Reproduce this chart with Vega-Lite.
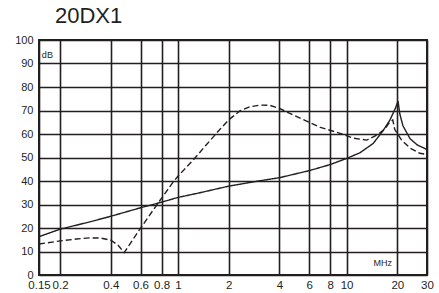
{
  "$schema": "https://vega.github.io/schema/vega-lite/v6.json",
  "width": 388,
  "height": 235,
  "autosize": "none",
  "padding": {"left": 39, "top": 40, "right": 12, "bottom": 18},
  "background": "white",
  "title": {"text": "20DX1", "anchor": "start", "frame": "group", "dx": 16, "offset": 6, "fontSize": 22, "font": "Liberation Sans", "fontWeight": "normal", "color": "#231f20"},
  "config": {
    "view": {"stroke": "#231f20", "strokeWidth": 2},
    "axis": {"grid": true, "gridColor": "#231f20", "gridWidth": 1.6, "gridOpacity": 1, "domain": false, "ticks": false, "labelFont": "Liberation Sans", "labelColor": "#231f20", "labelOverlap": false, "labelFlush": false, "labelBound": false, "title": null}
  },
  "datasets": {
    "curves": [
      {"series": "solid", "f": 0.15, "db": 16.3},
      {"series": "solid", "f": 0.2, "db": 19.5},
      {"series": "solid", "f": 0.3, "db": 22.6},
      {"series": "solid", "f": 0.4, "db": 25.0},
      {"series": "solid", "f": 0.6, "db": 28.6},
      {"series": "solid", "f": 0.8, "db": 31.0},
      {"series": "solid", "f": 1.0, "db": 33.0},
      {"series": "solid", "f": 1.35, "db": 35.0},
      {"series": "solid", "f": 2.0, "db": 37.8},
      {"series": "solid", "f": 3.0, "db": 40.0},
      {"series": "solid", "f": 4.0, "db": 41.4},
      {"series": "solid", "f": 6.0, "db": 44.4},
      {"series": "solid", "f": 8.0, "db": 47.0},
      {"series": "solid", "f": 10.0, "db": 49.6},
      {"series": "solid", "f": 12.0, "db": 52.0},
      {"series": "solid", "f": 14.4, "db": 56.0},
      {"series": "solid", "f": 16.5, "db": 61.5},
      {"series": "solid", "f": 18.1, "db": 66.0},
      {"series": "solid", "f": 19.5, "db": 71.0},
      {"series": "solid", "f": 20.2, "db": 74.0},
      {"series": "solid", "f": 20.7, "db": 68.5},
      {"series": "solid", "f": 21.6, "db": 63.5},
      {"series": "solid", "f": 23.8, "db": 58.0},
      {"series": "solid", "f": 26.3, "db": 55.3},
      {"series": "solid", "f": 30.0, "db": 53.4},
      {"series": "dashed", "f": 0.15, "db": 13.2},
      {"series": "dashed", "f": 0.2, "db": 14.5},
      {"series": "dashed", "f": 0.25, "db": 15.3},
      {"series": "dashed", "f": 0.3, "db": 15.8},
      {"series": "dashed", "f": 0.35, "db": 15.7},
      {"series": "dashed", "f": 0.4, "db": 14.8},
      {"series": "dashed", "f": 0.44, "db": 12.8},
      {"series": "dashed", "f": 0.48, "db": 9.5},
      {"series": "dashed", "f": 0.6, "db": 19.9},
      {"series": "dashed", "f": 0.78, "db": 31.6},
      {"series": "dashed", "f": 0.94, "db": 39.7},
      {"series": "dashed", "f": 1.0, "db": 42.0},
      {"series": "dashed", "f": 1.23, "db": 48.9},
      {"series": "dashed", "f": 1.47, "db": 55.3},
      {"series": "dashed", "f": 1.76, "db": 61.7},
      {"series": "dashed", "f": 2.0, "db": 66.0},
      {"series": "dashed", "f": 2.34, "db": 69.9},
      {"series": "dashed", "f": 2.68, "db": 71.6},
      {"series": "dashed", "f": 3.09, "db": 72.3},
      {"series": "dashed", "f": 3.5, "db": 72.2},
      {"series": "dashed", "f": 4.0, "db": 70.9},
      {"series": "dashed", "f": 4.82, "db": 68.1},
      {"series": "dashed", "f": 6.0, "db": 65.0},
      {"series": "dashed", "f": 7.0, "db": 62.8},
      {"series": "dashed", "f": 9.15, "db": 60.3},
      {"series": "dashed", "f": 11.0, "db": 58.2},
      {"series": "dashed", "f": 13.2, "db": 57.4},
      {"series": "dashed", "f": 15.2, "db": 59.6},
      {"series": "dashed", "f": 17.0, "db": 62.4},
      {"series": "dashed", "f": 18.1, "db": 65.2},
      {"series": "dashed", "f": 18.8, "db": 66.0},
      {"series": "dashed", "f": 19.3, "db": 62.0},
      {"series": "dashed", "f": 21.2, "db": 57.4},
      {"series": "dashed", "f": 23.8, "db": 54.0},
      {"series": "dashed", "f": 27.2, "db": 51.8},
      {"series": "dashed", "f": 30.0, "db": 51.3}
    ],
    "labels": [
      {"label": "dB", "f": 0.156, "db": 93.6, "align": "left"},
      {"label": "MHz", "f": 18.6, "db": 5.1, "align": "right"}
    ]
  },
  "encoding": {
    "x": {"field": "f", "type": "quantitative",
      "scale": {"type": "log", "domain": [0.15, 30], "nice": false},
      "axis": {"values": [0.15, 0.2, 0.4, 0.6, 0.8, 1, 2, 4, 6, 8, 10, 20, 30], "labelExpr": "'' + datum.value", "labelFontSize": 11.5, "labelPadding": 4}},
    "y": {"field": "db", "type": "quantitative",
      "scale": {"domain": [0, 100], "nice": false},
      "axis": {"values": [0, 10, 20, 30, 40, 50, 60, 70, 80, 90, 100], "labelFontSize": 11, "labelPadding": 6}}
  },
  "layer": [
    {
      "data": {"name": "curves"},
      "mark": {"type": "line", "color": "#231f20", "strokeWidth": 1.4, "clip": true},
      "encoding": {
        "strokeDash": {"field": "series", "type": "nominal",
          "scale": {"domain": ["solid", "dashed"], "range": [[1, 0], [6, 3]]}, "legend": null}
      }
    },
    {
      "data": {"name": "labels"},
      "transform": [{"filter": "datum.align == 'left'"}],
      "mark": {"type": "text", "align": "left", "baseline": "middle", "fontSize": 9, "font": "Liberation Sans", "color": "#231f20"},
      "encoding": {
        "text": {"field": "label"}
      }
    },
    {
      "data": {"name": "labels"},
      "transform": [{"filter": "datum.align == 'right'"}],
      "mark": {"type": "text", "align": "right", "baseline": "middle", "fontSize": 9, "font": "Liberation Sans", "color": "#231f20"},
      "encoding": {
        "text": {"field": "label"}
      }
    }
  ]
}
